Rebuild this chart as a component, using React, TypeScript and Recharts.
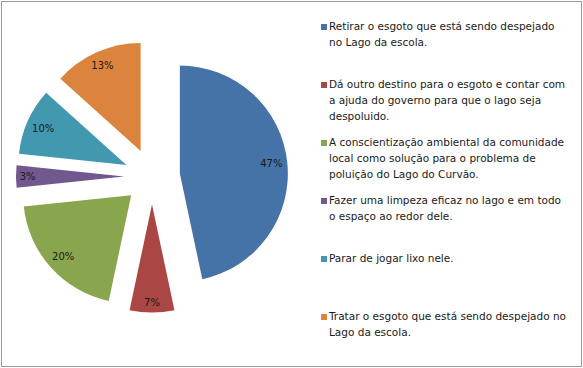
import React from 'react';
import { PieChart, Pie, Cell, Legend, Sector } from 'recharts';

const categories = [
  'Retirar o esgoto que está sendo despejado\nno Lago da escola.',
  'Dá outro destino para o esgoto e contar com\na ajuda do governo para que o lago seja\ndespoluido.',
  'A conscientização ambiental da comunidade\nlocal como solução para o problema de\npoluição do Lago do Curvão.',
  'Fazer uma limpeza eficaz no lago e em todo\no espaço ao redor dele.',
  'Parar de jogar lixo nele.',
  'Tratar o esgoto que está sendo despejado no\nLago da escola.',
];
const responses = [14, 2, 6, 1, 3, 4];
const colors = ['#4572A7', '#AA4643', '#89A54E', '#71588F', '#4198AF', '#DB843D'];

const data = categories.map((name, i) => ({ name, value: responses[i] }));

const RAD = Math.PI / 180;
const EXPLODE = 28;
const FONT = '"DejaVu Sans", sans-serif';

const renderSlice = (props: any) => {
  const { cx, cy, midAngle, outerRadius, startAngle, endAngle, index, percent } = props;
  const ux = Math.cos(-midAngle * RAD);
  const uy = Math.sin(-midAngle * RAD);
  const ax = cx + EXPLODE * ux;
  const ay = cy + EXPLODE * uy;
  const text = `${Math.round(percent * 100)}%`;
  const halfW = text.length * 3.8;
  const halfH = 6;
  const d = outerRadius - 4 - (halfW * Math.abs(ux) + halfH * Math.abs(uy));
  return (
    <g key={`slice-${index}`}>
      <Sector
        cx={ax}
        cy={ay}
        innerRadius={0}
        outerRadius={outerRadius}
        startAngle={startAngle}
        endAngle={endAngle}
        fill={colors[index]}
        stroke="none"
      />
      <text
        x={ax + d * ux}
        y={ay + d * uy}
        textAnchor="middle"
        dominantBaseline="central"
        fontFamily={FONT}
        fontSize={10}
        fill="#1a1a1a"
      >
        {text}
      </text>
    </g>
  );
};

const renderLegend = () => (
  <div style={{ fontFamily: FONT, fontSize: 10.5, color: '#1a1a1a' }}>
    {categories.map((name, i) => (
      <div key={i} style={{ position: 'relative', height: 58.1 }}>
        <div
          style={{
            position: 'absolute',
            left: 0,
            top: 5,
            width: 6,
            height: 6,
            background: colors[i],
          }}
        />
        <div
          style={{
            position: 'absolute',
            left: 8,
            top: 0,
            whiteSpace: 'pre',
            lineHeight: '15.7px',
          }}
        >
          {name}
        </div>
      </div>
    ))}
  </div>
);

export default function App() {
  return (
    <div style={{ position: 'absolute', left: 0, top: 0, width: 583, height: 368, background: '#fff' }}>
      <div
        style={{
          position: 'absolute',
          left: 1,
          top: 1,
          width: 579,
          height: 364,
          border: '1px solid #9a9a9a',
        }}
      />
      <PieChart width={583} height={368} margin={{ top: 0, right: 0, bottom: 0, left: 0 }}>
        <Pie
          data={data}
          dataKey="value"
          nameKey="name"
          cx={152}
          cy={176.5}
          outerRadius={108}
          startAngle={90}
          endAngle={-270}
          isAnimationActive={false}
          stroke="none"
          label={renderSlice}
          labelLine={false}
        >
          {data.map((_, i) => (
            <Cell key={i} fill="none" stroke="none" />
          ))}
        </Pie>
        <Legend
          layout="vertical"
          align="right"
          verticalAlign="top"
          content={renderLegend}
          wrapperStyle={{ left: 321, top: 19, right: 'auto', bottom: 'auto', width: 260 }}
        />
      </PieChart>
    </div>
  );
}
